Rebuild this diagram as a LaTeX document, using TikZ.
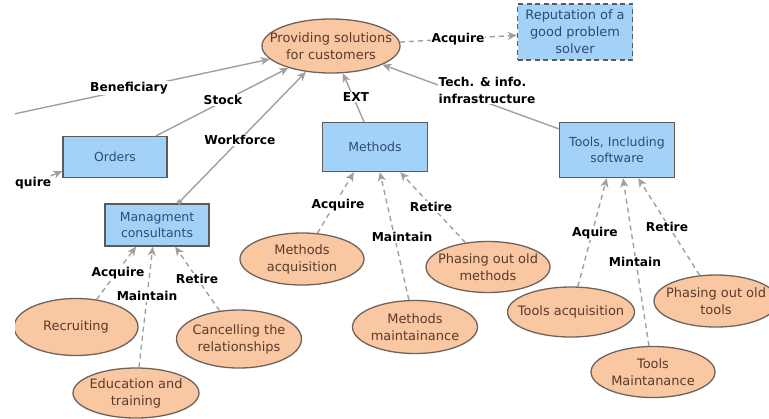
\documentclass[tikz,border=0pt]{standalone}
\usepackage{fontspec}
\setmainfont{DejaVu Sans}
\usetikzlibrary{shapes.geometric,arrows.meta,calc}

\definecolor{peach}{HTML}{F9C7A2}
\definecolor{peachline}{HTML}{6F625A}
\definecolor{boxfill}{HTML}{A4D2F6}
\definecolor{boxline}{HTML}{5B5B5B}
\definecolor{boxtext}{HTML}{2D4A78}
\definecolor{elltext}{HTML}{5A3A2A}
\definecolor{conn}{HTML}{A0A0A0}

\tikzset{
  etext/.style={align=center, text=elltext, inner sep=0pt, font=\fontsize{13}{17}\selectfont},
  ell/.style={ellipse, draw=peachline, fill=peach, line width=1.3bp, inner sep=0pt},
  box/.style={rectangle, draw=boxline, fill=boxfill, line width=1.3bp, inner sep=0pt,
              text=boxtext, align=center, font=\fontsize{12.5}{16.5}\selectfont},
  lbl/.style={fill=white, inner sep=1bp, align=left, font=\bfseries\fontsize{12.3}{17}\selectfont},
  conline/.style={draw=conn, line width=1.4bp, -{Stealth[length=9bp,width=8bp,inset=2.5bp]}},
  dconline/.style={conline, dash pattern=on 5bp off 4bp},
}

\begin{document}
\begin{tikzpicture}[x=1bp, y=-1bp]
\useasboundingbox (0,0) rectangle (769,418);
\clip (15,0) rectangle (769,418);

% main shapes
\node[ell, minimum width=138bp, minimum height=54bp,
      label={[etext]center:Providing solutions\\for customers}] (P) at (331,46) {};
\node[box, minimum width=115bp, minimum height=56bp, dash pattern=on 5bp off 3.5bp,
      font=\fontsize{13}{17}\selectfont] (R) at (575,32)
      {Reputation of a\\good problem\\solver};
\node[box, minimum width=104bp, minimum height=41bp] (O) at (115,157) {Orders};
\node[box, minimum width=105bp, minimum height=49bp] (M) at (375,147) {Methods};
\node[box, minimum width=115bp, minimum height=55bp] (T) at (617,150) {Tools, Including\\software};
\node[box, minimum width=104bp, minimum height=42bp] (MC) at (157,225) {Managment\\consultants};

\node[ell, minimum width=124bp, minimum height=57bp, label={[etext]center:Recruiting}] (REC) at (76,327) {};
\node[ell, minimum width=126bp, minimum height=50bp, label={[etext]center:Education and\\training}] (EDU) at (136,393) {};
\node[ell, minimum width=125bp, minimum height=58bp, label={[etext]center:Cancelling the\\relationships}] (CAN) at (239,339) {};
\node[ell, minimum width=124bp, minimum height=52bp, label={[etext]center:Methods\\acquisition}] (MA) at (302,259) {};
\node[ell, minimum width=125bp, minimum height=53bp, label={[etext]center:Methods\\maintainance}] (MM) at (415,327) {};
\node[ell, minimum width=124bp, minimum height=51bp, label={[etext]center:Phasing out old\\methods}] (PM) at (488,267) {};
\node[ell, minimum width=127bp, minimum height=50bp, label={[etext]center:Tools acquisition}] (TA) at (571,312) {};
\node[ell, minimum width=124bp, minimum height=51bp, label={[etext]center:Tools\\Maintanance}] (TM) at (653,372) {};
\node[ell, minimum width=124bp, minimum height=52bp, label={[etext]center:Phasing out old\\tools}] (PT) at (716,301) {};

\coordinate (bstart) at (0,117);
\node[lbl, anchor=west] (loacq) at (14,183) {quire};

% connectors
\draw[conline] (bstart) -- (P);
\draw[conline] (O) -- (P);
\draw[draw=conn, line width=1.4bp, {Square[length=4bp,width=4bp]}-{Stealth[length=9bp,width=8bp,inset=2.5bp]}] (MC) -- (P);
\draw[conline] (M) -- (P);
\draw[conline] (T) -- (P);
\draw[dconline] (P) -- (R);
\draw[conline] (loacq) -- (O.195);

\draw[dconline] (REC) -- (MC.226.4);
\draw[dconline] (EDU) -- (MC.259.2);
\draw[dconline] (CAN) -- (MC.310.6);
\draw[dconline] (MA) -- (M.230.8);
\draw[dconline] (MM) -- (M.281.5);
\draw[dconline] (PM) -- (M.315.6);
\draw[dconline] (TA) -- (T.250);
\draw[dconline] (TM) -- (T.282.3);
\draw[dconline] (PT) -- (T.307.4);

% labels
\node[lbl] (lben) at (129,88) {Beneficiary};
\node[lbl] (lstock) at (223,100) {Stock};
\node[lbl] (lwork) at (240,140) {Workforce};
\node[lbl] (lext) at (356,97) {EXT};
\node[lbl] (lacq) at (458,39) {Acquire};
\node[lbl] (ltech) at (487,90) {Tech. \& info.\\infrastructure};
\node[lbl] (lmca) at (118,273) {Acquire};
\node[lbl] (lmcm) at (147,296) {Maintain};
\node[lbl] (lmcr) at (197,279) {Retire};
\node[lbl] (lma) at (338,205) {Acquire};
\node[lbl] (lmm) at (402,237) {Maintain};
\node[lbl] (lmr) at (431,207) {Retire};
\node[lbl] (lta) at (595,233) {Aquire};
\node[lbl] (ltm) at (635,262) {Mintain};
\node[lbl] (ltr) at (667,227) {Retire};
\end{tikzpicture}
\end{document}
